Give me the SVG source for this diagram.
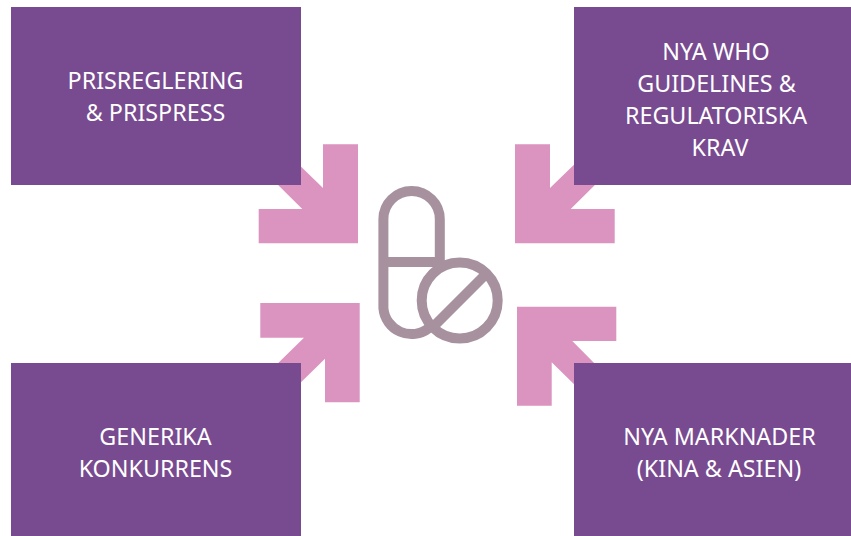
<svg xmlns="http://www.w3.org/2000/svg" width="851" height="536" viewBox="0 0 851 536">
<style>
.box{fill:#784a90}
.arrow{fill:#db93bf}
.t{font-family:"Noto Sans","Open Sans",sans-serif;font-size:23.3px;fill:#fff;text-anchor:middle}
.pill{fill:none;stroke:#a7919f;stroke-width:10}
</style>
<rect width="851" height="536" fill="#fff"/>
<g id="connectors">
<polygon class="arrow" points="323,144.3 358,144.3 358,243.3 258.7,243.3 258.7,209 302.3,209 270,177 290,156 323,188"/>
<polygon class="arrow" points="550,144.3 515,144.3 515,243.3 614.7,243.3 614.7,209 570.7,209 603,177 583,156 550,188"/>
<polygon class="arrow" points="325,402.3 359.7,402.3 359.7,303 260.3,303 260.3,337.7 304,337.7 270,371 291,392 325,358.7"/>
<polygon class="arrow" points="551.7,405.7 517,405.7 517,306.7 616.3,306.7 616.3,341 572.3,341 604,373 584,394 551.7,362.3"/>
</g>
<g id="node-prisreglering">
<rect class="box" x="11" y="7" width="290" height="178"/>
<text class="t" x="155.5" y="88.5">PRISREGLERING</text>
<text class="t" x="155.5" y="120.5">&amp; PRISPRESS</text>
</g>
<g id="node-who">
<rect class="box" x="574" y="7" width="277" height="178"/>
<text class="t" x="716" y="59.5">NYA WHO</text>
<text class="t" x="716.5" y="91.5">GUIDELINES &amp;</text>
<text class="t" x="716" y="123.5">REGULATORISKA</text>
<text class="t" x="720" y="155.5">KRAV</text>
</g>
<g id="node-generika">
<rect class="box" x="11" y="363" width="290" height="173"/>
<text class="t" x="155.5" y="445">GENERIKA</text>
<text class="t" x="155.5" y="477">KONKURRENS</text>
</g>
<g id="node-marknader">
<rect class="box" x="574" y="363" width="277" height="173"/>
<text class="t" x="719.5" y="445">NYA MARKNADER</text>
<text class="t" x="719" y="477">(KINA &amp; ASIEN)</text>
</g>
<g id="node-pill">
<path class="pill" d="M439.8 262V219.2A28.2 28.2 0 0 0 383.4 219.2V308.1A28.2 28.2 0 0 0 429 328M383.4 262H442"/>
<circle class="pill" cx="459.7" cy="300.5" r="38"/>
<path class="pill" d="M431 329L487 273"/>
</g>
</svg>
